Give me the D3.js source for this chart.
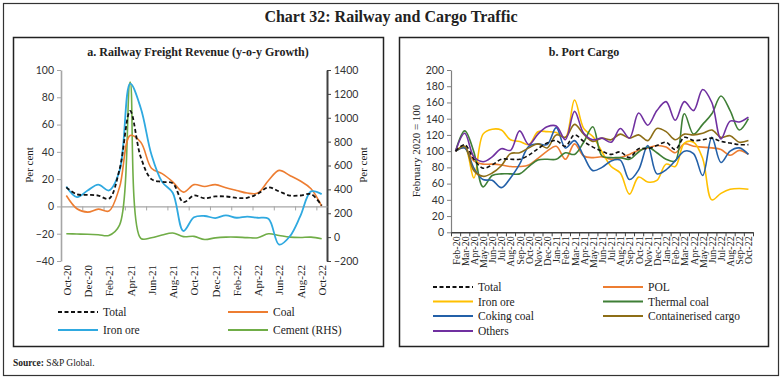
<!DOCTYPE html>
<html>
<head>
<meta charset="utf-8">
<script src="https://cdn.jsdelivr.net/npm/d3@7"></script>
<style>
  body { margin: 0; background: #fff; }
  .serif { font-family: "Liberation Serif", "DejaVu Serif", serif; }
  .sans { font-family: Lato, "Liberation Sans", sans-serif; }
</style>
</head>
<body>
<svg id="chart"></svg>
<script>
// a. Railway freight revenue, y-o-y growth (per cent); cement on the right axis
var railMonths = ["Oct-20", "Nov-20", "Dec-20", "Jan-21", "Feb-21", "Mar-21", "Apr-21", "May-21",
    "Jun-21", "Jul-21", "Aug-21", "Sep-21", "Oct-21", "Nov-21", "Dec-21", "Jan-22", "Feb-22",
    "Mar-22", "Apr-22", "May-22", "Jun-22", "Jul-22", "Aug-22", "Sep-22", "Oct-22"];
var railTotal = [14, 8.8, 8.5, 8, 5.6, 27, 70, 36, 20, 18, 17, 3.2, 8, 6, 7.3, 7.3, 6.3, 6.3, 9.3, 14, 11, 8, 8, 9, 0.7];
var railCoal = [8, -1.7, -4.2, -2, -3.4, 14, 52, 47, 28, 24, 18, 10.5, 16, 14.6, 16, 13.7, 11.7, 9.8, 9.8, 19, 26.4, 22.7, 18.6, 13, 0.2];
var railIronOre = [14.6, 6.8, 11.7, 16, 11.7, 26, 90, 72, 38, 18, 10, -18, -8, -7, -8.5, -6.5, -8.3, -7.5, -8.3, -9, -28, -22, -7, 11, 9];
var railCement = [28, 26, 24, 20, 14, 100, 1300, -10, -5, 18, 35, 4, 6, -20, -6, 0, 0, -4, -5, 28, 14, 0, -3, 0, -14];

// b. Port cargo index, February 2020 = 100
var portMonths = ["Feb-20", "Mar-20", "Apr-20", "May-20", "Jun-20", "Jul-20", "Aug-20", "Sep-20",
    "Oct-20", "Nov-20", "Dec-20", "Jan-21", "Feb-21", "Mar-21", "Apr-21", "May-21", "Jun-21",
    "Jul-21", "Aug-21", "Sep-21", "Oct-21", "Nov-21", "Dec-21", "Jan-22", "Feb-22", "Mar-22",
    "Apr-22", "May-22", "Jun-22", "Jul-22", "Aug-22", "Sep-22", "Oct-22"];
var portTotal = [100, 108, 90, 79, 83, 90, 90, 90, 95, 103, 110, 113, 106, 120, 112, 105, 100, 96, 99, 92, 103, 103, 107, 111, 102, 117, 113, 114, 116, 112, 110, 108, 108];
var portPOL = [100, 104, 88, 84, 84, 83, 81, 81, 83, 91, 100, 106, 90, 109, 94, 92, 93, 90, 92, 96, 101, 104, 107, 105, 98, 109, 106, 105, 104, 102, 95, 101, 96];
var portIronOre = [100, 105, 67, 121, 127, 126, 114, 112, 108, 124, 124, 123, 117, 163, 128, 118, 99, 81, 73, 47, 68, 62, 64, 84, 81, 110, 111, 91, 40, 48, 53, 54, 53];
var portThermalCoal = [100, 125, 99, 56, 70, 72, 72, 72, 81, 89, 90, 90, 98, 96, 111, 130, 94, 92, 92, 90, 99, 105, 98, 90, 88, 146, 121, 133, 146, 168, 150, 126, 140];
var portCokingCoal = [100, 104, 79, 65, 64, 55, 67, 84, 106, 109, 108, 129, 104, 113, 94, 76, 80, 88, 89, 65, 77, 107, 72, 77, 88, 100, 97, 70, 117, 86, 100, 104, 96];
var portContainer = [100, 106, 76, 69, 73, 82, 97, 98, 104, 109, 104, 120, 117, 133, 121, 112, 116, 114, 121, 116, 120, 113, 128, 124, 114, 121, 120, 122, 126, 117, 119, 111, 113];
var portOthers = [100, 122, 93, 87, 93, 103, 101, 125, 108, 121, 130, 131, 114, 149, 122, 114, 116, 111, 128, 116, 147, 132, 150, 161, 138, 161, 150, 176, 160, 115, 137, 136, 142];

var railTicks = [-40, -20, 0, 20, 40, 60, 80, 100];
var cementTicks = [-200, 0, 200, 400, 600, 800, 1000, 1200, 1400];
var portTicks = [0, 20, 40, 60, 80, 100, 120, 140, 160, 180, 200];

var svg = d3.select("#chart").attr("width", 782).attr("height", 380);

// frames
svg.append("rect").attr("x", 3.5).attr("y", 3.5).attr("width", 775).attr("height", 372)
    .attr("fill", "none").attr("stroke", "#333").attr("stroke-width", 1.2);
svg.append("rect").attr("x", 13.5).attr("y", 37.5).attr("width", 370).attr("height", 309)
    .attr("fill", "none").attr("stroke", "#222").attr("stroke-width", 1.5);
svg.append("rect").attr("x", 399.5).attr("y", 37.5).attr("width", 369).attr("height", 309)
    .attr("fill", "none").attr("stroke", "#222").attr("stroke-width", 1.5);

svg.append("text").attr("class", "serif").attr("x", 391).attr("y", 22)
    .attr("text-anchor", "middle").style("font-size", "16px").style("font-weight", "bold")
    .attr("fill", "#222").text("Chart 32: Railway and Cargo Traffic");

svg.append("text").attr("class", "serif").attr("x", 13).attr("y", 366)
    .style("font-size", "9.5px").attr("fill", "#222")
    .call(function (t) {
        t.append("tspan").style("font-weight", "bold").text("Source: ");
        t.append("tspan").text("S&P Global.");
    });

function styleAxis(g, color, width) {
    g.selectAll("path").attr("stroke", color).attr("stroke-width", width);
    g.selectAll("line").attr("stroke", color).attr("stroke-width", 1);
    g.selectAll("text").attr("class", "sans").style("font-size", "10.5px").attr("fill", "#333");
}

function drawLine(g, values, x, y, color, width, dash) {
    var line = d3.line()
        .x(function (d, i) { return x(i); })
        .y(function (d) { return y(d); })
        .curve(d3.curveCatmullRom.alpha(0.5));
    var p = g.append("path").datum(values)
        .attr("fill", "none").attr("stroke", color).attr("stroke-width", width)
        .attr("stroke-linejoin", "round").attr("d", line);
    if (dash) p.attr("stroke-dasharray", dash);
}

function drawLegend(g, items, cols, rows) {
    items.forEach(function (it, k) {
        var lx = cols[k % 2], ly = rows[Math.floor(k / 2)];
        var l = g.append("line").attr("x1", lx).attr("x2", lx + 40).attr("y1", ly).attr("y2", ly)
            .attr("stroke", it.color).attr("stroke-width", 2.2);
        if (it.dash) l.attr("stroke-dasharray", "4,2.5").attr("stroke-width", 1.8);
        g.append("text").attr("class", "serif").attr("x", lx + 45).attr("y", ly + 4)
            .style("font-size", "11.5px").attr("fill", "#222").text(it.name);
    });
}

// ---- a. Railway Freight Revenue
var left = svg.append("g");
var xRail = d3.scaleLinear().domain([-0.5, railMonths.length - 0.5]).range([61, 327]);
var yRail = d3.scaleLinear().domain([-40, 100]).range([261, 70]);
var yCement = d3.scaleLinear().domain([-200, 1400]).range([261, 70]);

left.append("text").attr("class", "serif").attr("x", 198).attr("y", 56)
    .attr("text-anchor", "middle").style("font-size", "12px").style("font-weight", "bold")
    .attr("fill", "#222").text("a. Railway Freight Revenue (y-o-y Growth)");

left.append("g").attr("transform", "translate(61,0)")
    .call(d3.axisLeft(yRail).tickValues(railTicks).tickSize(4).tickSizeOuter(0))
    .call(styleAxis, "#a6a6a6", 1.6);
left.append("g").attr("transform", "translate(327,0)")
    .call(d3.axisRight(yCement).tickValues(cementTicks).tickFormat(d3.format("d"))
        .tickSize(4).tickSizeOuter(0))
    .call(styleAxis, "#404040", 2);

left.append("g").attr("transform", "translate(0," + yRail(0) + ")")
    .call(d3.axisBottom(xRail).tickValues(d3.range(-0.5, railMonths.length - 1, 2))
        .tickFormat("").tickSize(4).tickSizeOuter(0))
    .call(styleAxis, "#a6a6a6", 1.2);

left.append("g").attr("transform", "translate(0," + yRail(-40) + ")")
    .call(d3.axisBottom(xRail).tickValues(d3.range(0, railMonths.length, 2))
        .tickFormat(function (i) { return railMonths[i]; }).tickSize(0))
    .call(function (g) {
        g.select(".domain").remove();
        g.selectAll("text").attr("class", "serif").style("font-size", "11px").attr("fill", "#222")
            .attr("y", 0).attr("x", -4).attr("dy", "0.35em")
            .attr("transform", "rotate(-90)").style("text-anchor", "end");
    });

left.append("text").attr("class", "serif").attr("transform", "translate(33,165) rotate(-90)")
    .attr("text-anchor", "middle").style("font-size", "11px").attr("fill", "#222").text("Per cent");
left.append("text").attr("class", "serif").attr("transform", "translate(367,165) rotate(-90)")
    .attr("text-anchor", "middle").style("font-size", "11px").attr("fill", "#222").text("Per cent");

drawLine(left, railCement, xRail, yCement, "#70ad47", 1.6);
drawLine(left, railCoal, xRail, yRail, "#ed7d31", 1.6);
drawLine(left, railIronOre, xRail, yRail, "#2fa9e0", 1.8);
drawLine(left, railTotal, xRail, yRail, "#111", 1.8, "4,2.5");

drawLegend(left, [
    { name: "Total", color: "#111", dash: true },
    { name: "Coal", color: "#ed7d31" },
    { name: "Iron ore", color: "#2fa9e0" },
    { name: "Cement (RHS)", color: "#70ad47" }
], [58, 228], [312, 330]);

// ---- b. Port Cargo
var right = svg.append("g");
var xPort = d3.scaleLinear().domain([-0.5, portMonths.length - 0.5]).range([451, 753]);
var yPort = d3.scaleLinear().domain([0, 200]).range([232.3, 70]);

right.append("text").attr("class", "serif").attr("x", 584).attr("y", 56)
    .attr("text-anchor", "middle").style("font-size", "12px").style("font-weight", "bold")
    .attr("fill", "#222").text("b. Port Cargo");

right.append("g").attr("transform", "translate(451,0)")
    .call(d3.axisLeft(yPort).tickValues(portTicks).tickSize(4).tickSizeOuter(0))
    .call(styleAxis, "#808080", 1.2);

right.append("g").attr("transform", "translate(0," + yPort(0) + ")")
    .call(d3.axisBottom(xPort).tickValues(d3.range(-0.5, portMonths.length, 1))
        .tickFormat("").tickSize(4).tickSizeOuter(0))
    .call(styleAxis, "#404040", 1.4);

right.append("g").attr("transform", "translate(0," + yPort(0) + ")")
    .call(d3.axisBottom(xPort).tickValues(d3.range(0, portMonths.length))
        .tickFormat(function (i) { return portMonths[i]; }).tickSize(0))
    .call(function (g) {
        g.select(".domain").remove();
        g.selectAll("text").attr("class", "serif").style("font-size", "10px").attr("fill", "#222")
            .attr("y", 0).attr("x", -4).attr("dy", "0.35em")
            .attr("transform", "rotate(-90)").style("text-anchor", "end");
    });

right.append("text").attr("class", "serif").attr("transform", "translate(420,151) rotate(-90)")
    .attr("text-anchor", "middle").style("font-size", "11px").attr("fill", "#222")
    .text("February 2020 = 100");

drawLine(right, portPOL, xPort, yPort, "#ed7d31", 1.6);
drawLine(right, portIronOre, xPort, yPort, "#ffc000", 1.6);
drawLine(right, portThermalCoal, xPort, yPort, "#3f7f36", 1.6);
drawLine(right, portCokingCoal, xPort, yPort, "#2360a8", 1.6);
drawLine(right, portContainer, xPort, yPort, "#8d6e17", 1.6);
drawLine(right, portOthers, xPort, yPort, "#7030a0", 1.6);
drawLine(right, portTotal, xPort, yPort, "#111", 1.6, "4,2.5");

drawLegend(right, [
    { name: "Total", color: "#111", dash: true },
    { name: "POL", color: "#ed7d31" },
    { name: "Iron ore", color: "#ffc000" },
    { name: "Thermal coal", color: "#3f7f36" },
    { name: "Coking coal", color: "#2360a8" },
    { name: "Containerised cargo", color: "#8d6e17" },
    { name: "Others", color: "#7030a0" }
], [433, 603], [287, 301.5, 316, 331]);
</script>
</body>
</html>
